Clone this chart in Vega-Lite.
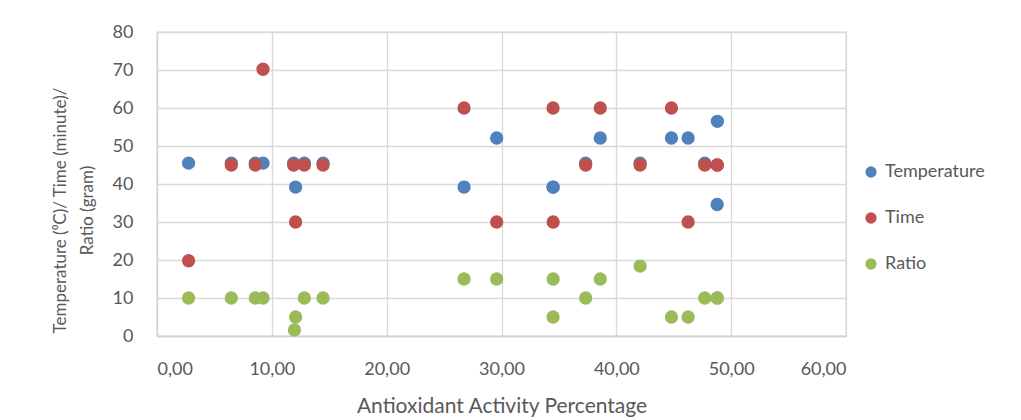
{
  "$schema": "https://vega.github.io/schema/vega-lite/v6.json",
  "autosize": "none",
  "width": 689,
  "height": 304,
  "padding": {"left": 157, "top": 32, "right": 175, "bottom": 84},
  "background": "white",
  "data": {
    "values": [
      {"activity": 2.75, "series": "Temperature", "value": 45.5},
      {"activity": 6.47, "series": "Temperature", "value": 45.5},
      {"activity": 8.56, "series": "Temperature", "value": 45.5},
      {"activity": 9.23, "series": "Temperature", "value": 45.5},
      {"activity": 11.9, "series": "Temperature", "value": 45.5},
      {"activity": 12.07, "series": "Temperature", "value": 39.2},
      {"activity": 12.83, "series": "Temperature", "value": 45.5},
      {"activity": 14.46, "series": "Temperature", "value": 45.5},
      {"activity": 26.74, "series": "Temperature", "value": 39.2},
      {"activity": 29.58, "series": "Temperature", "value": 52.1},
      {"activity": 34.49, "series": "Temperature", "value": 39.2},
      {"activity": 34.5, "series": "Temperature", "value": 39.2},
      {"activity": 37.33, "series": "Temperature", "value": 45.5},
      {"activity": 38.6, "series": "Temperature", "value": 52.1},
      {"activity": 42.07, "series": "Temperature", "value": 45.5},
      {"activity": 44.8, "series": "Temperature", "value": 52.1},
      {"activity": 46.25, "series": "Temperature", "value": 52.1},
      {"activity": 47.7, "series": "Temperature", "value": 45.5},
      {"activity": 48.8, "series": "Temperature", "value": 56.5},
      {"activity": 48.78, "series": "Temperature", "value": 34.6},
      {"activity": 2.75, "series": "Time", "value": 19.8},
      {"activity": 6.47, "series": "Time", "value": 45},
      {"activity": 8.56, "series": "Time", "value": 45},
      {"activity": 9.23, "series": "Time", "value": 70.2},
      {"activity": 11.9, "series": "Time", "value": 45},
      {"activity": 12.07, "series": "Time", "value": 30},
      {"activity": 12.83, "series": "Time", "value": 45},
      {"activity": 14.46, "series": "Time", "value": 45},
      {"activity": 26.74, "series": "Time", "value": 60},
      {"activity": 29.58, "series": "Time", "value": 30},
      {"activity": 34.49, "series": "Time", "value": 60},
      {"activity": 34.5, "series": "Time", "value": 30},
      {"activity": 37.33, "series": "Time", "value": 45},
      {"activity": 38.6, "series": "Time", "value": 60},
      {"activity": 42.07, "series": "Time", "value": 45},
      {"activity": 44.8, "series": "Time", "value": 60},
      {"activity": 46.25, "series": "Time", "value": 30},
      {"activity": 47.7, "series": "Time", "value": 45},
      {"activity": 48.8, "series": "Time", "value": 45},
      {"activity": 48.78, "series": "Time", "value": 45},
      {"activity": 2.75, "series": "Ratio", "value": 10},
      {"activity": 6.47, "series": "Ratio", "value": 10},
      {"activity": 8.56, "series": "Ratio", "value": 10},
      {"activity": 9.23, "series": "Ratio", "value": 10},
      {"activity": 11.97, "series": "Ratio", "value": 1.6},
      {"activity": 12.07, "series": "Ratio", "value": 5},
      {"activity": 12.83, "series": "Ratio", "value": 10},
      {"activity": 14.46, "series": "Ratio", "value": 10},
      {"activity": 26.74, "series": "Ratio", "value": 15},
      {"activity": 29.58, "series": "Ratio", "value": 15},
      {"activity": 34.49, "series": "Ratio", "value": 5},
      {"activity": 34.5, "series": "Ratio", "value": 15},
      {"activity": 37.33, "series": "Ratio", "value": 10},
      {"activity": 38.6, "series": "Ratio", "value": 15},
      {"activity": 42.07, "series": "Ratio", "value": 18.4},
      {"activity": 44.8, "series": "Ratio", "value": 5},
      {"activity": 46.25, "series": "Ratio", "value": 5},
      {"activity": 47.7, "series": "Ratio", "value": 10},
      {"activity": 48.8, "series": "Ratio", "value": 10},
      {"activity": 48.78, "series": "Ratio", "value": 10}
    ]
  },
  "mark": {"type": "point", "filled": true, "opacity": 1, "size": 177, "shape": "circle", "strokeWidth": 0},
  "encoding": {
    "x": {
      "field": "activity",
      "type": "quantitative",
      "scale": {"domain": [0, 60], "nice": false, "zero": false},
      "axis": {
        "values": [0, 10, 20, 30, 40, 50, 60],
        "labelExpr": "replace(format(datum.value, '.2f'), '.', ',')",
        "title": "Antioxidant Activity Percentage",
        "titleFontSize": 21,
        "titlePadding": 17,
        "labelPadding": 24
      }
    },
    "y": {
      "field": "value",
      "type": "quantitative",
      "scale": {"domain": [0, 80], "nice": false},
      "axis": {
        "values": [0, 10, 20, 30, 40, 50, 60, 70, 80],
        "title": ["Temperature (⁰C)/ Time (minute)/", "Ratio (gram)"],
        "titleFontSize": 17,
        "titleLineHeight": 27,
        "titlePadding": 16,
        "titleY": 178,
        "labelPadding": 24
      }
    },
    "color": {
      "field": "series",
      "type": "nominal",
      "sort": ["Temperature", "Time", "Ratio"],
      "scale": {"domain": ["Temperature", "Time", "Ratio"], "range": ["#4F81BD", "#C0504D", "#9BBB59"]},
      "legend": {
        "title": null,
        "orient": "none",
        "legendX": 705,
        "legendY": 131,
        "symbolType": "circle",
        "symbolSize": 127,
        "symbolStrokeWidth": 0,
        "labelFontSize": 18,
        "labelOffset": 5,
        "rowPadding": 28,
        "padding": 0
      }
    }
  },
  "config": {
    "font": "Lato",
    "view": {"stroke": "#d9d9d9", "strokeWidth": 1.3},
    "axis": {
      "gridColor": "#d9d9d9",
      "gridWidth": 1.3,
      "domainColor": "#d0d0d0",
      "domainWidth": 1.3,
      "ticks": false,
      "tickSize": 0,
      "labelFontSize": 18,
      "labelColor": "#595959",
      "titleColor": "#595959",
      "titleFontWeight": "normal",
      "labelFont": "Lato",
      "titleFont": "Lato"
    },
    "legend": {"labelColor": "#595959", "labelFont": "Lato"}
  }
}
